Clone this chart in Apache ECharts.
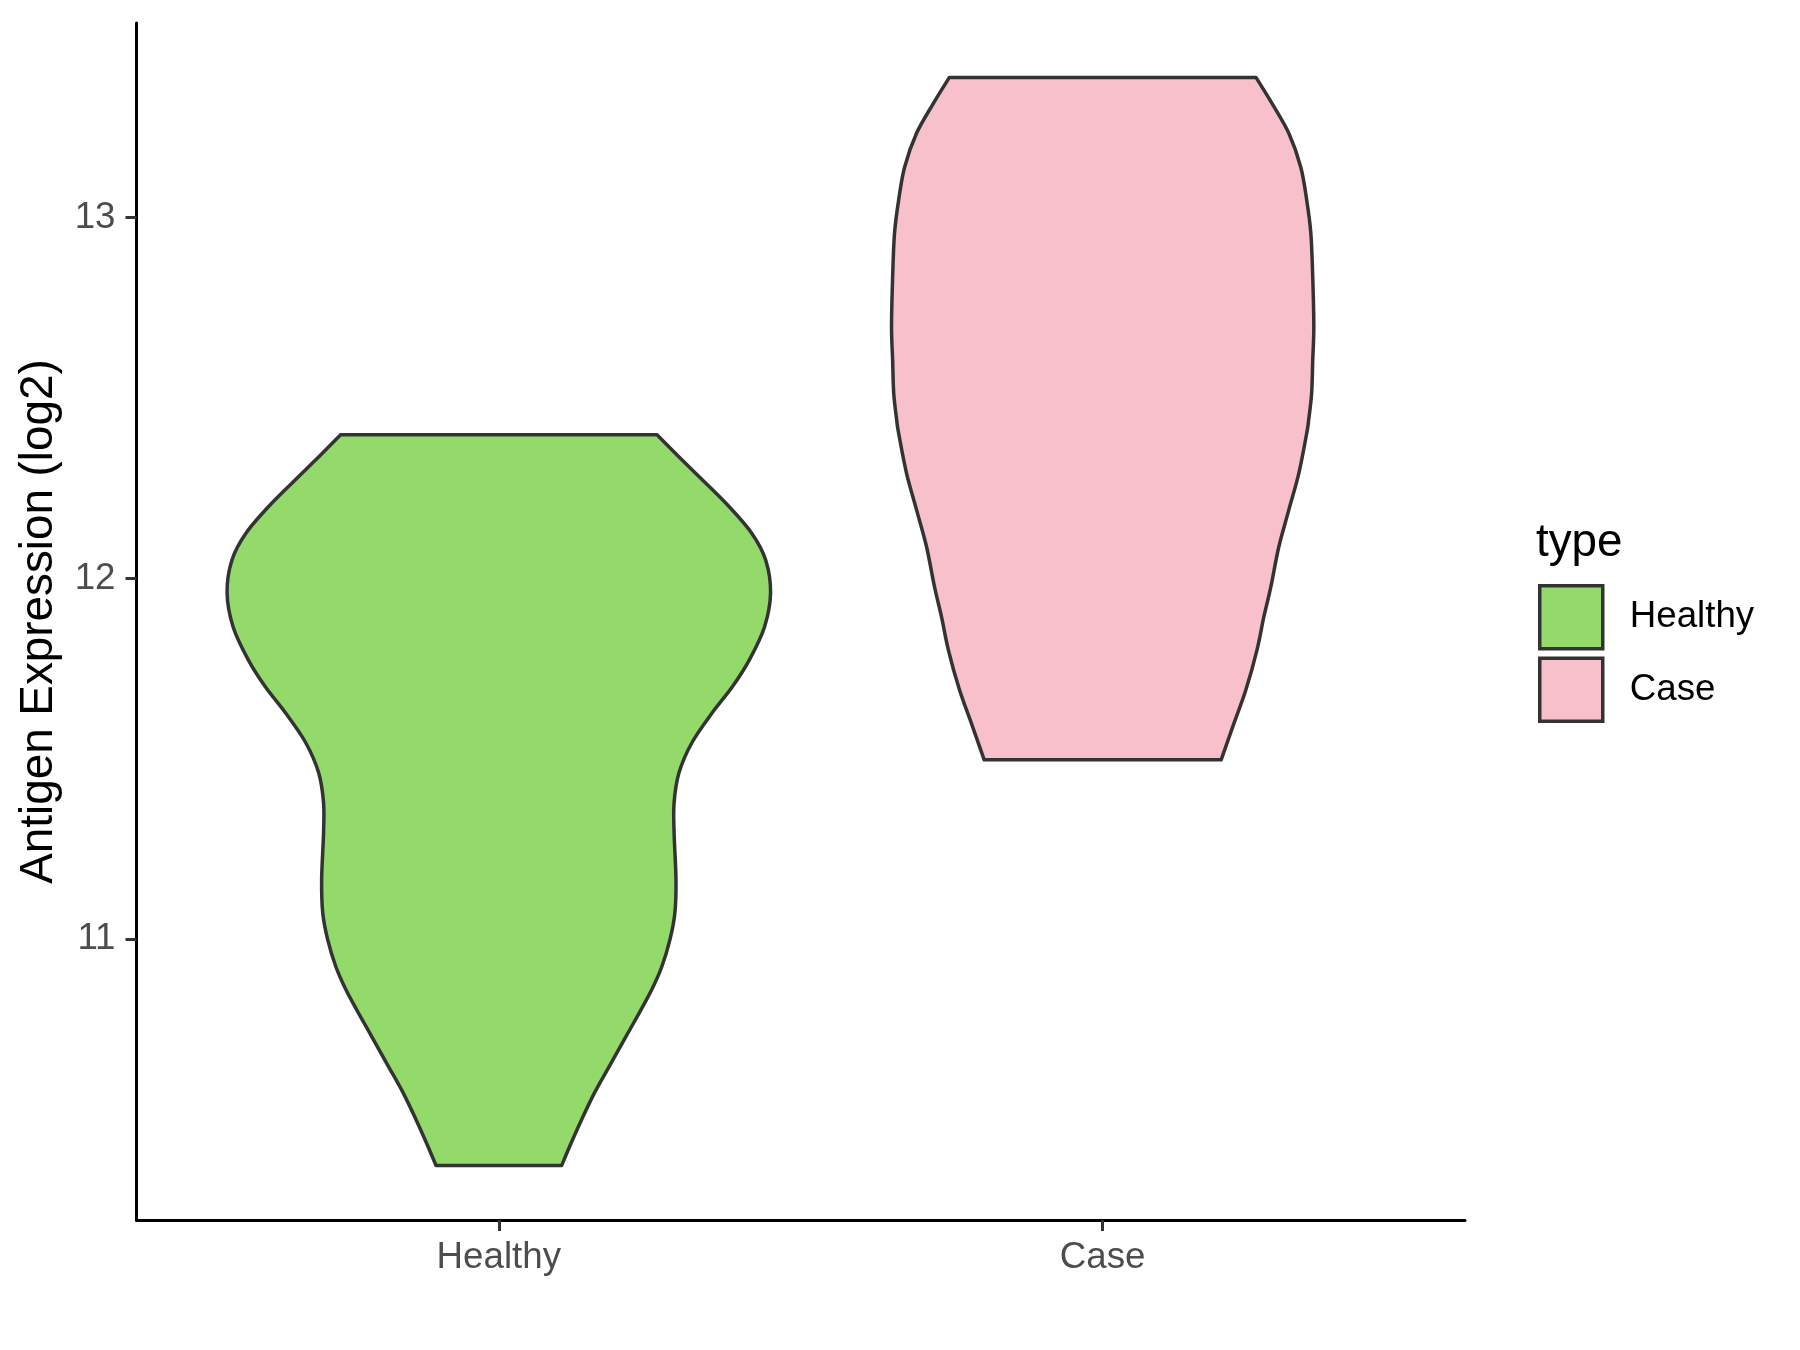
<!DOCTYPE html>
<html><head><meta charset="utf-8">
<script src="https://cdn.jsdelivr.net/npm/echarts@6/dist/echarts.min.js"></script>
<style>html,body{margin:0;padding:0;background:#fff}#c{width:1800px;height:1350px}</style>
</head><body><div id="c"></div>
<script>
const categories = ['Healthy', 'Case'];
const yTicks = [11, 12, 13];

// violin outlines: expression value and relative density (1 = widest)
const healthyY = [12.398, 12.301, 12.209, 12.126, 12.051, 11.960, 11.866, 11.774, 11.700, 11.628, 11.545, 11.461, 11.378, 11.295, 11.165, 11.073, 10.999, 10.924, 10.860, 10.797, 10.722, 10.648, 10.575, 10.500, 10.436, 10.372];
const healthyDensity = [0.582, 0.711, 0.835, 0.930, 0.982, 1.000, 0.978, 0.922, 0.860, 0.786, 0.711, 0.663, 0.645, 0.645, 0.652, 0.648, 0.630, 0.600, 0.563, 0.518, 0.462, 0.407, 0.353, 0.305, 0.267, 0.231];
const caseY = [13.389, 13.317, 13.234, 13.140, 13.048, 12.957, 12.835, 12.697, 12.605, 12.514, 12.439, 12.403, 12.292, 12.190, 12.087, 11.977, 11.893, 11.802, 11.691, 11.600, 11.497];
const caseDensity = [0.564, 0.623, 0.685, 0.729, 0.751, 0.766, 0.773, 0.777, 0.773, 0.769, 0.758, 0.751, 0.722, 0.685, 0.648, 0.619, 0.593, 0.568, 0.527, 0.484, 0.436];

const colors = ['#93DA6A', '#F8C0CB'];
const FONT = 'Liberation Sans, Arial, sans-serif';

const violins = [
  { name: categories[0], x: 1, y: healthyY, d: healthyDensity, color: colors[0] },
  { name: categories[1], x: 2, y: caseY, d: caseDensity, color: colors[1] }
];
const allY = healthyY.concat(caseY);
const lo = Math.min(...allY), hi = Math.max(...allY), pad = (hi - lo) * 0.05;
const maxHalf = 0.45;

// Catmull-Rom spline through points, as cubic bezier segments (no initial move)
function splineSegs(p) {
  let s = '';
  for (let i = 0; i < p.length - 1; i++) {
    const p0 = p[Math.max(0, i - 1)], p1 = p[i], p2 = p[i + 1], p3 = p[Math.min(p.length - 1, i + 2)];
    const c1x = p1[0] + (p2[0] - p0[0]) / 6, c1y = p1[1] + (p2[1] - p0[1]) / 6;
    const c2x = p2[0] - (p3[0] - p1[0]) / 6, c2y = p2[1] - (p3[1] - p1[1]) / 6;
    s += ' C' + c1x.toFixed(2) + ' ' + c1y.toFixed(2) + ' ' + c2x.toFixed(2) + ' ' + c2y.toFixed(2) + ' ' + p2[0].toFixed(2) + ' ' + p2[1].toFixed(2);
  }
  return s;
}

function makeRender(v) {
  return function (params, api) {
    const right = [], left = [];
    for (let i = 0; i < v.y.length; i++) right.push(api.coord([v.x + maxHalf * v.d[i], v.y[i]]));
    for (let i = v.y.length - 1; i >= 0; i--) left.push(api.coord([v.x - maxHalf * v.d[i], v.y[i]]));
    const d = 'M' + right[0][0].toFixed(2) + ' ' + right[0][1].toFixed(2) + splineSegs(right) +
      ' L' + left[0][0].toFixed(2) + ' ' + left[0][1].toFixed(2) + splineSegs(left) + ' Z';
    return {
      type: 'path',
      shape: { pathData: d },
      style: { fill: v.color, stroke: '#333333', lineWidth: 3.5, lineJoin: 'round' }
    };
  };
}

const chart = echarts.init(document.getElementById('c'), null, { renderer: 'canvas' });
chart.setOption({
  backgroundColor: '#ffffff',
  animation: false,
  textStyle: { fontFamily: FONT },
  grid: { left: 136.5, right: 335, top: 23, bottom: 130, containLabel: false },
  title: {
    text: 'type', left: 1531, top: 515,
    textStyle: { fontSize: 45.8, fontWeight: 'normal', color: '#000', fontFamily: FONT }
  },
  legend: {
    orient: 'vertical', left: 1538, top: 584, padding: 0,
    itemWidth: 63, itemHeight: 63, itemGap: 6, icon: 'rect',
    textStyle: { fontSize: 36.7, color: '#000', fontFamily: FONT, padding: [0, 0, 0, 22] },
    data: violins.map(v => ({ name: v.name, itemStyle: { color: v.color, borderColor: '#333333', borderWidth: 3.5 } }))
  },
  xAxis: {
    type: 'value', min: 0.4, max: 2.6,
    splitLine: { show: false },
    axisLine: { show: true, onZero: false, lineStyle: { color: '#000', width: 3 } },
    axisTick: { show: true, length: 11, lineStyle: { color: '#333', width: 3 }, customValues: [1, 2] },
    axisLabel: {
      show: true, customValues: [1, 2], margin: 19,
      formatter: val => categories[Math.round(val) - 1] || '',
      fontSize: 36.7, color: '#4D4D4D', fontFamily: FONT
    }
  },
  yAxis: {
    type: 'value', min: lo - pad, max: hi + pad,
    name: 'Antigen Expression (log2)', nameLocation: 'middle', nameGap: 74,
    nameTextStyle: { fontSize: 45.8, color: '#000', fontFamily: FONT },
    splitLine: { show: false },
    axisLine: { show: true, onZero: false, lineStyle: { color: '#000', width: 3 } },
    axisTick: { show: true, length: 11, lineStyle: { color: '#333', width: 3 }, customValues: yTicks },
    axisLabel: {
      show: true, customValues: yTicks, margin: 21,
      fontSize: 36.7, color: '#4D4D4D', fontFamily: FONT
    }
  },
  series: violins.map(v => ({
    type: 'custom', name: v.name,
    itemStyle: { color: v.color, borderColor: '#333333', borderWidth: 3.5 },
    renderItem: makeRender(v),
    data: [[v.x, v.y[0]]],
    clip: false
  }))
});
</script>
</body></html>
